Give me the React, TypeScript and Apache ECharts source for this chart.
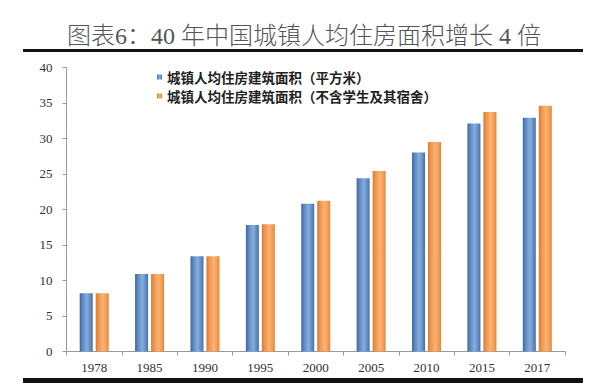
import React, { useEffect, useRef } from "react";
import * as echarts from "echarts";

const titleText = "图表6：40 年中国城镇人均住房面积增长 4 倍";
const categories = ["1978", "1985", "1990", "1995", "2000", "2005", "2010", "2015", "2017"];
const seriesNames = [
  "城镇人均住房建筑面积（平方米）",
  "城镇人均住房建筑面积（不含学生及其宿舍）",
];
const totalArea = [8.2, 10.9, 13.4, 17.8, 20.8, 24.4, 28.0, 32.1, 32.9];
const excludingStudents = [8.2, 10.9, 13.4, 17.9, 21.2, 25.4, 29.5, 33.7, 34.6];
const yTicks = { min: 0, max: 40, interval: 5 };

const serifFont = "'Liberation Serif', 'Times New Roman', 'Noto Sans CJK SC', serif";

const blueGrad = new echarts.graphic.LinearGradient(0, 0, 1, 0, [
  { offset: 0, color: "#3a659c" },
  { offset: 0.2, color: "#5b87c0" },
  { offset: 0.55, color: "#86addd" },
  { offset: 0.85, color: "#5c88c2" },
  { offset: 1, color: "#426fa8" },
]);
const orangeGrad = new echarts.graphic.LinearGradient(0, 0, 1, 0, [
  { offset: 0, color: "#d27a35" },
  { offset: 0.2, color: "#f0934a" },
  { offset: 0.55, color: "#fbb273" },
  { offset: 0.85, color: "#f49a50" },
  { offset: 1, color: "#dc843c" },
]);

export default function App() {
  const ref = useRef<HTMLDivElement>(null);
  useEffect(() => {
    if (!ref.current) return;
    document.body.style.margin = "0";
    const chart = echarts.init(ref.current, undefined, { renderer: "svg" });
    chart.setOption({
      animation: false,
      backgroundColor: "#ffffff",
      graphic: [
        {
          type: "text",
          x: 304,
          y: 36,
          style: {
            text: titleText,
            fontSize: 24,
            fontWeight: 300,
            fontFamily: serifFont,
            fill: "#555555",
            textAlign: "center",
            textVerticalAlign: "middle",
          },
        },
        { type: "rect", shape: { x: 23, y: 49, width: 560, height: 3 }, style: { fill: "#111111" } },
        { type: "rect", shape: { x: 23, y: 378, width: 560, height: 5 }, style: { fill: "#111111" } },
      ],
      legend: {
        orient: "vertical",
        left: 152,
        top: 65,
        icon: "rect",
        itemWidth: 5,
        itemHeight: 5,
        itemGap: 5,
        textStyle: {
          fontSize: 13.5,
          lineHeight: 14,
          fontWeight: "bold",
          color: "#222222",
          fontFamily: "'Noto Sans CJK SC', sans-serif",
        },
        data: seriesNames,
      },
      grid: { left: 66.5, right: 27, top: 67.3, bottom: 32.5, containLabel: false },
      xAxis: {
        type: "category",
        data: categories,
        axisLine: { show: true, lineStyle: { color: "#9a9a9a", width: 1 } },
        axisTick: { show: true, length: 4, lineStyle: { color: "#9a9a9a" } },
        axisLabel: { margin: 9, fontSize: 13, color: "#333333", fontFamily: serifFont },
        splitLine: { show: false },
      },
      yAxis: {
        type: "value",
        min: yTicks.min,
        max: yTicks.max,
        interval: yTicks.interval,
        axisLine: { show: true, lineStyle: { color: "#9a9a9a", width: 1 } },
        axisTick: { show: true, length: 4, lineStyle: { color: "#9a9a9a" } },
        axisLabel: { margin: 14, fontSize: 13, color: "#333333", fontFamily: serifFont },
        splitLine: { show: false },
      },
      series: [
        {
          name: seriesNames[0],
          type: "bar",
          data: totalArea,
          barWidth: 13,
          barGap: "23%",
          itemStyle: { color: blueGrad },
        },
        {
          name: seriesNames[1],
          type: "bar",
          data: excludingStudents,
          barWidth: 13,
          barGap: "23%",
          itemStyle: { color: orangeGrad },
        },
      ],
    });
    return () => chart.dispose();
  }, []);
  return <div ref={ref} style={{ width: 592, height: 384 }} />;
}
